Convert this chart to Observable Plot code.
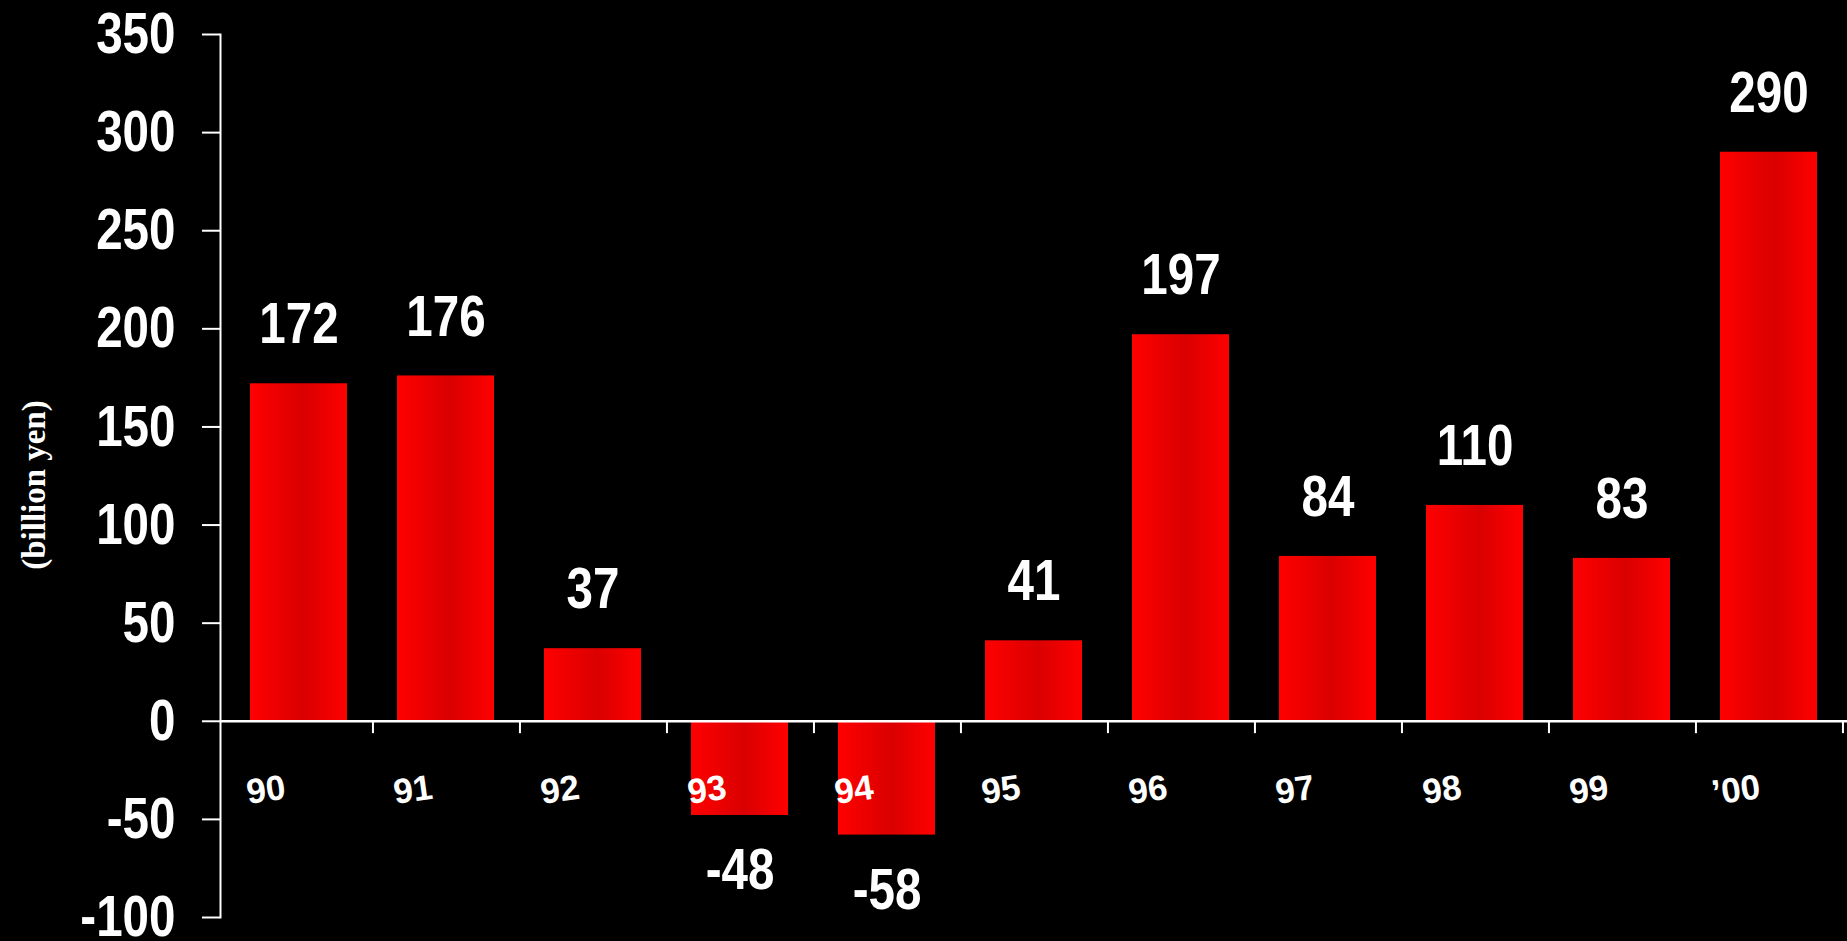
<!DOCTYPE html>
<html>
<head>
<meta charset="utf-8">
<script src="https://cdn.jsdelivr.net/npm/d3@7"></script>
<script src="https://cdn.jsdelivr.net/npm/@observablehq/plot@0.6"></script>
<style>
  html, body { margin: 0; padding: 0; background: #000; }
  #chart svg { display: block; }
</style>
</head>
<body>
<div id="chart"></div>
<script>
// ---- data ----
const years = ["90", "91", "92", "93", "94", "95", "96", "97", "98", "99", "’00"];
const values = [172, 176, 37, -48, -58, 41, 197, 84, 110, 83, 290];
const yTicks = [-100, -50, 0, 50, 100, 150, 200, 250, 300, 350];
const yLabel = "(billion yen)";

const data = years.map((year, i) => ({year, value: values[i]}));

// ---- layout ----
const W = 1847, H = 941;
const mL = 220, mR = 0, mT = 34, mB = 24;
const step = (W - mL - mR) / years.length;
const narrow = "'Liberation Sans Narrow', 'Arial Narrow', 'Liberation Sans', Arial, sans-serif";
const squeeze = 0.82;

const defs = () => {
  const d = d3.create("svg:defs");
  const g = d.append("linearGradient").attr("id", "barGrad")
    .attr("x1", "0").attr("x2", "1").attr("y1", "0").attr("y2", "0");
  g.append("stop").attr("offset", "0%").attr("stop-color", "#ff0000");
  g.append("stop").attr("offset", "55%").attr("stop-color", "#da0000");
  g.append("stop").attr("offset", "100%").attr("stop-color", "#ff0000");
  return d.node();
};

const chart = Plot.plot({
  width: W,
  height: H,
  marginLeft: mL,
  marginRight: mR,
  marginTop: mT,
  marginBottom: mB,
  style: {background: "#000", color: "#fff", overflow: "visible"},
  x: {domain: years, paddingInner: 0.34, paddingOuter: 0.17, axis: null},
  y: {domain: [-100, 350], axis: null},
  marks: [
    defs,
    Plot.barY(data, {x: "year", y: "value", fill: "url(#barGrad)"}),
    Plot.ruleY([0], {stroke: "#fff", strokeWidth: 2.5}),
    Plot.ruleX(data, {x: "year", y1: 0, y2: -6.3, dx: step / 2, stroke: "#fff", strokeWidth: 2}),
    Plot.frame({anchor: "left", stroke: "#fff", strokeWidth: 2}),
    Plot.axisY({
      ticks: yTicks, tickSize: 18, tickPadding: 27, tickFormat: d => String(d),
      stroke: "#fff", strokeWidth: 2, strokeOpacity: 1,
      fontSize: 58, fontWeight: "bold", fontFamily: narrow, fill: "#fff", label: null
    }),
    Plot.text(data, {
      x: "year", y: 0, text: "year", dx: -33, dy: 69, rotate: -8,
      fontSize: 35, fontWeight: "bold", fontFamily: "'Liberation Sans', Arial, sans-serif",
      fill: "#fff", textAnchor: "middle", lineAnchor: "middle"
    }),
    Plot.text(data, {
      x: "year", y: "value", text: d => String(d.value),
      fontSize: 58, fontWeight: "bold", fontFamily: narrow, fill: "#fff",
      textAnchor: "middle", lineAnchor: "middle",
      filter: d => d.value >= 0, dy: -59
    }),
    Plot.text(data, {
      x: "year", y: "value", text: d => String(d.value),
      fontSize: 58, fontWeight: "bold", fontFamily: narrow, fill: "#fff",
      textAnchor: "middle", lineAnchor: "middle",
      filter: d => d.value < 0, dy: 55
    }),
    Plot.text([yLabel], {
      text: d => d, frameAnchor: "left", dx: -186, dy: 9, rotate: -90,
      fontSize: 33, fontWeight: "bold", fontFamily: "'Liberation Serif', 'Times New Roman', serif",
      fill: "#fff", textAnchor: "middle", lineAnchor: "middle"
    })
  ]
});

// condense the bold numerals (the original uses a narrow face)
d3.select(chart).selectAll("g[font-family*='Narrow'] text").each(function () {
  const t = d3.select(this);
  const tr = t.attr("transform") || "";
  t.attr("transform", `${tr} scale(${squeeze},1)`);
});

document.getElementById("chart").appendChild(chart);
</script>
</body>
</html>
